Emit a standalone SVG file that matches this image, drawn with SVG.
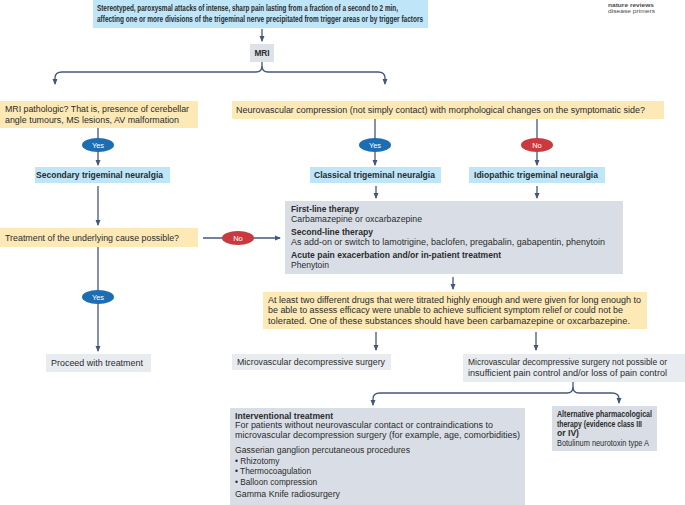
<svg xmlns="http://www.w3.org/2000/svg" width="685" height="505" viewBox="0 0 685 505">
<style>
text{font-family:"Liberation Sans",Arial,sans-serif;font-size:8.3px;fill:#2b2b2b}
.b{font-weight:bold}
.hd{font-weight:bold;font-size:9px}
.yl{fill:#fde9b5}
.bl{fill:#bee5f8}
.gr{fill:#d9dee6}
.lg{fill:#e8ebf0}
.ln{stroke:#44577a;stroke-width:1.3;fill:none}
.yes{fill:#1d6db3}
.no{fill:#c9393d}
.pill{fill:#fff;font-size:7.5px;text-anchor:middle}
.logo{font-size:5.6px;fill:#4a4a4a}
</style>
<defs>
<marker id="ah" markerUnits="userSpaceOnUse" markerWidth="6" markerHeight="6" viewBox="0 0 6 6" refX="5" refY="3" orient="auto">
<path d="M0,0.5 L6,3 L0,5.5 Z" fill="#44577a"/>
</marker>
</defs>

<g id="logo">
<text class="logo b" x="608" y="7" textLength="46" lengthAdjust="spacingAndGlyphs">nature reviews</text>
<text class="logo" x="608" y="13" textLength="47" lengthAdjust="spacingAndGlyphs">disease primers</text>
</g>

<g id="connectors">
<path class="ln" d="M262,29 V41" marker-end="url(#ah)"/>
<path class="ln" d="M262,62 V66 Q262,72 256,72 H62 Q55,72 55,78 V84" marker-end="url(#ah)"/>
<path class="ln" d="M262,66 Q262,72 268,72 H378 Q385,72 385,78 V84" marker-end="url(#ah)"/>
<path class="ln" d="M98,128 V165" marker-end="url(#ah)"/>
<path class="ln" d="M375,119 V165" marker-end="url(#ah)"/>
<path class="ln" d="M537,119 V165" marker-end="url(#ah)"/>
<path class="ln" d="M98,186 V225" marker-end="url(#ah)"/>
<path class="ln" d="M376,186 V198" marker-end="url(#ah)"/>
<path class="ln" d="M537,186 V198" marker-end="url(#ah)"/>
<path class="ln" d="M203,238 H280" marker-end="url(#ah)"/>
<path class="ln" d="M98,247 V351" marker-end="url(#ah)"/>
<path class="ln" d="M453,277 V289" marker-end="url(#ah)"/>
<path class="ln" d="M376,332 V350" marker-end="url(#ah)"/>
<path class="ln" d="M536,332 V350" marker-end="url(#ah)"/>
<path class="ln" d="M573,382 V387 Q573,393 567,393 H380 Q373,393 373,399 V405" marker-end="url(#ah)"/>
<path class="ln" d="M573,387 Q573,393 579,393 H612 Q619,393 619,399 V403" marker-end="url(#ah)"/>
</g>

<g id="n-top">
<rect class="bl" x="93" y="0" width="335" height="28"/>
<text class="hd" x="97" y="11" textLength="301" lengthAdjust="spacingAndGlyphs">Stereotyped, paroxysmal attacks of intense, sharp pain lasting from a fraction of a second to 2 min,</text>
<text class="hd" x="97" y="22" textLength="326" lengthAdjust="spacingAndGlyphs">affecting one or more divisions of the trigeminal nerve precipitated from trigger areas or by trigger factors</text>
</g>

<g id="n-mri">
<rect x="250" y="44" width="24" height="18" fill="#dde1e8"/>
<text class="b" x="262" y="56" text-anchor="middle">MRI</text>
</g>

<g id="n-pathologic">
<rect class="yl" x="0" y="101" width="198" height="27"/>
<text x="5" y="112" textLength="184" lengthAdjust="spacingAndGlyphs">MRI pathologic? That is, presence of cerebellar</text>
<text x="5" y="123" textLength="174" lengthAdjust="spacingAndGlyphs">angle tumours, MS lesions, AV malformation</text>
</g>

<g id="n-neurovascular">
<rect class="yl" x="232" y="101" width="432" height="18"/>
<text x="236" y="113" textLength="409" lengthAdjust="spacingAndGlyphs">Neurovascular compression (not simply contact) with morphological changes on the symptomatic side?</text>
</g>

<g id="p-yes1">
<ellipse class="yes" cx="98" cy="145" rx="16" ry="7"/>
<text class="pill" x="98" y="148">Yes</text>
</g>
<g id="p-yes2">
<ellipse class="yes" cx="375" cy="145" rx="16" ry="7"/>
<text class="pill" x="375" y="148">Yes</text>
</g>
<g id="p-no1">
<ellipse class="no" cx="537" cy="145" rx="16" ry="7"/>
<text class="pill" x="537" y="148">No</text>
</g>

<g id="n-secondary">
<rect class="bl" x="35" y="167" width="135" height="16"/>
<text class="b" x="36" y="178" textLength="127" lengthAdjust="spacingAndGlyphs">Secondary trigeminal neuralgia</text>
</g>
<g id="n-classical">
<rect class="bl" x="310" y="167" width="131" height="16"/>
<text class="b" x="314" y="178" textLength="121" lengthAdjust="spacingAndGlyphs">Classical trigeminal neuralgia</text>
</g>
<g id="n-idiopathic">
<rect class="bl" x="469" y="167" width="136" height="16"/>
<text class="b" x="474" y="178" textLength="124" lengthAdjust="spacingAndGlyphs">Idiopathic trigeminal neuralgia</text>
</g>

<g id="n-treatment">
<rect class="yl" x="0" y="228" width="198" height="19"/>
<text x="5" y="241" textLength="174" lengthAdjust="spacingAndGlyphs">Treatment of the underlying cause possible?</text>
</g>

<g id="p-no2">
<ellipse class="no" cx="238" cy="238" rx="16" ry="7"/>
<text class="pill" x="238" y="241">No</text>
</g>

<g id="n-therapy">
<rect class="gr" x="285" y="201" width="338" height="73"/>
<text class="b" x="291" y="212" textLength="68" lengthAdjust="spacingAndGlyphs">First-line therapy</text>
<text x="291" y="222" textLength="131" lengthAdjust="spacingAndGlyphs">Carbamazepine or oxcarbazepine</text>
<text class="b" x="291" y="235" textLength="82" lengthAdjust="spacingAndGlyphs">Second-line therapy</text>
<text x="291" y="245" textLength="314" lengthAdjust="spacingAndGlyphs">As add-on or switch to lamotrigine, baclofen, pregabalin, gabapentin, phenytoin</text>
<text class="b" x="291" y="258" textLength="210" lengthAdjust="spacingAndGlyphs">Acute pain exacerbation and/or in-patient treatment</text>
<text x="291" y="268" textLength="38" lengthAdjust="spacingAndGlyphs">Phenytoin</text>
</g>

<g id="p-yes3">
<ellipse class="yes" cx="98" cy="297" rx="16" ry="7"/>
<text class="pill" x="98" y="300">Yes</text>
</g>

<g id="n-atleast">
<rect class="yl" x="263" y="292" width="384" height="37"/>
<text x="268" y="303" textLength="373" lengthAdjust="spacingAndGlyphs">At least two different drugs that were titrated highly enough and were given for long enough to</text>
<text x="268" y="313" textLength="355" lengthAdjust="spacingAndGlyphs">be able to assess efficacy were unable to achieve sufficient symptom relief or could not be</text>
<text x="268" y="324" textLength="362" lengthAdjust="spacingAndGlyphs">tolerated. One of these substances should have been carbamazepine or oxcarbazepine.</text>
</g>

<g id="n-proceed">
<rect class="lg" x="46" y="354" width="105" height="18"/>
<text x="51" y="366" textLength="92" lengthAdjust="spacingAndGlyphs">Proceed with treatment</text>
</g>

<g id="n-mvd">
<rect class="lg" x="232" y="354" width="159" height="16"/>
<text x="237" y="365" textLength="148" lengthAdjust="spacingAndGlyphs">Microvascular decompressive surgery</text>
</g>

<g id="n-mvd-not">
<rect class="lg" x="463" y="354" width="222" height="28"/>
<text x="468" y="365" textLength="199" lengthAdjust="spacingAndGlyphs">Microvascular decompressive surgery not possible or</text>
<text x="468" y="376" textLength="199" lengthAdjust="spacingAndGlyphs">insufficient pain control and/or loss of pain control</text>
</g>

<g id="n-interventional">
<rect class="gr" x="230" y="408" width="295" height="97"/>
<text class="b" x="235" y="418.5" textLength="98" lengthAdjust="spacingAndGlyphs">Interventional treatment</text>
<text x="235" y="428" textLength="258" lengthAdjust="spacingAndGlyphs">For patients without neurovascular contact or contraindications to</text>
<text x="235" y="437.5" textLength="285" lengthAdjust="spacingAndGlyphs">microvascular decompression surgery (for example, age, comorbidities)</text>
<text x="235" y="453" textLength="175" lengthAdjust="spacingAndGlyphs">Gasserian ganglion percutaneous procedures</text>
<text x="235" y="463.5">• Rhizotomy</text>
<text x="235" y="474">• Thermocoagulation</text>
<text x="235" y="484.5">• Balloon compression</text>
<text x="235" y="497" textLength="105" lengthAdjust="spacingAndGlyphs">Gamma Knife radiosurgery</text>
</g>

<g id="n-alternative">
<rect class="gr" x="552" y="406" width="105" height="45"/>
<text class="b" x="557" y="417" textLength="95" lengthAdjust="spacingAndGlyphs">Alternative pharmacological</text>
<text class="b" x="557" y="426.5" textLength="85" lengthAdjust="spacingAndGlyphs">therapy (evidence class III</text>
<text class="b" x="557" y="436" textLength="22" lengthAdjust="spacingAndGlyphs">or IV)</text>
<text x="557" y="445.5" textLength="92" lengthAdjust="spacingAndGlyphs">Botulinum neurotoxin type A</text>
</g>
</svg>
